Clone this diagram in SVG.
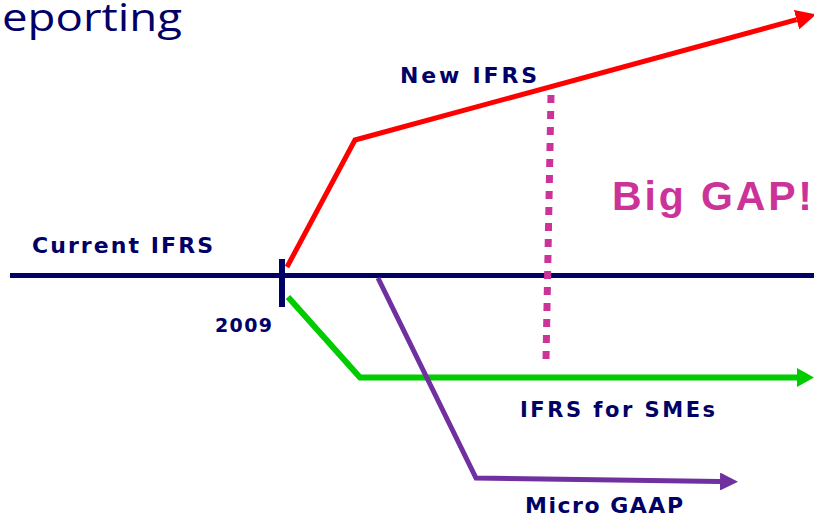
<svg xmlns="http://www.w3.org/2000/svg" width="814" height="517" viewBox="0 0 814 517">
<style>
.lbl{font-family:"DejaVu Sans",Verdana,sans-serif;font-weight:bold;fill:#000066}
.ln{fill:none;stroke-linejoin:miter;stroke-linecap:butt}
</style>
<defs>
<marker id="aR" markerUnits="userSpaceOnUse" markerWidth="20" markerHeight="20" refX="0" refY="9" orient="auto" viewBox="0 0 18 18"><path d="M0,0 L18,9 L0,18 z" fill="#ff0000"/></marker>
<marker id="aG" markerUnits="userSpaceOnUse" markerWidth="17" markerHeight="19" refX="0" refY="9.5" orient="auto" viewBox="0 0 17 19"><path d="M0,0 L17,9.5 L0,19 z" fill="#00cc00"/></marker>
<marker id="aP" markerUnits="userSpaceOnUse" markerWidth="18" markerHeight="18" refX="0" refY="9" orient="auto" viewBox="0 0 18 18"><path d="M0,0 L18,9 L0,18 z" fill="#7030a0"/></marker>
</defs>
<rect width="814" height="517" fill="#ffffff"/>
<text x="2" y="31" font-family="'Open Sans','DejaVu Sans',sans-serif" font-size="39" fill="#000066" textLength="180" lengthAdjust="spacingAndGlyphs">eporting</text>
<g id="connectors">
<line id="current" class="ln" x1="10" y1="275.5" x2="814" y2="275.5" stroke="#000066" stroke-width="5"/>
<line id="tick" class="ln" x1="282" y1="259" x2="282" y2="307" stroke="#000066" stroke-width="6"/>
<polyline id="new-ifrs" class="ln" points="287,267 355,140 796.6,19.7" stroke="#ff0000" stroke-width="5" marker-end="url(#aR)"/>
<polyline id="smes" class="ln" points="288,297 360,377.5 797,377.5" stroke="#00cc00" stroke-width="6" marker-end="url(#aG)"/>
<polyline id="micro" class="ln" points="378,278 476,478 720,481.5" stroke="#7030a0" stroke-width="5" marker-end="url(#aP)"/>
<line id="gap" x1="551" y1="95" x2="546" y2="360" stroke="#cc3399" stroke-width="7" stroke-dasharray="8 8"/>
</g>
<g id="label-new-ifrs"><text class="lbl" x="400" y="83" font-size="22" textLength="137" lengthAdjust="spacing">New IFRS</text></g>
<g id="label-big-gap"><text x="612" y="210" font-family="'Liberation Sans',Arial,sans-serif" font-weight="bold" font-size="41" fill="#cc3399" textLength="200" lengthAdjust="spacing">Big GAP!</text></g>
<g id="label-current"><text class="lbl" x="32" y="253" font-size="22" textLength="181" lengthAdjust="spacing">Current IFRS</text></g>
<g id="label-2009"><text class="lbl" x="215" y="332" font-size="19" textLength="57" lengthAdjust="spacing">2009</text></g>
<g id="label-smes"><text class="lbl" x="520" y="417" font-size="21" textLength="195" lengthAdjust="spacing">IFRS for SMEs</text></g>
<g id="label-micro"><text class="lbl" x="525" y="513" font-size="22" textLength="158" lengthAdjust="spacing">Micro GAAP</text></g>
</svg>
